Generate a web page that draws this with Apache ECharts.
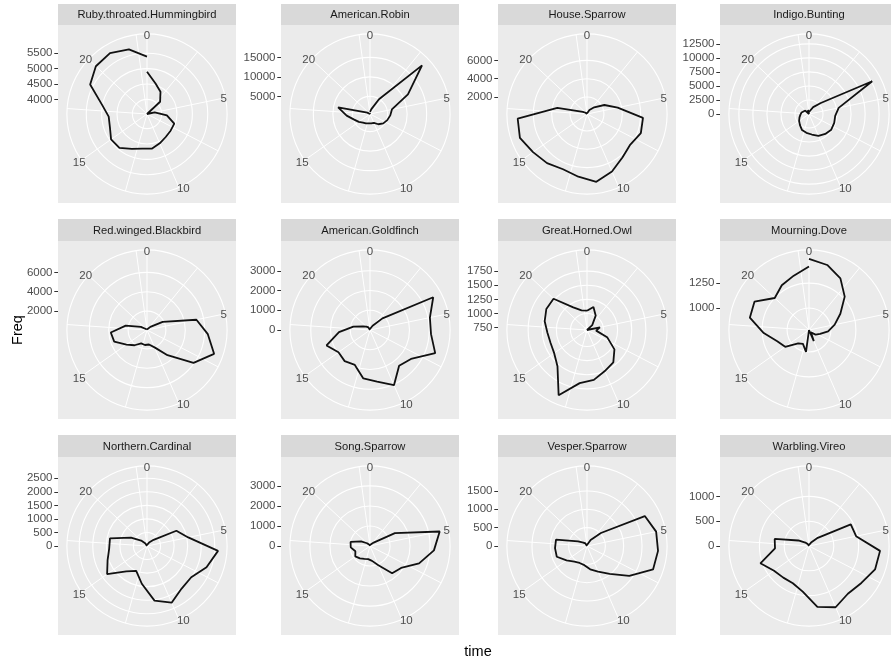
<!DOCTYPE html>
<html>
<head>
<meta charset="utf-8">
<script src="https://cdn.jsdelivr.net/npm/echarts@6/dist/echarts.min.js"></script>
<style>
  html, body { margin: 0; padding: 0; background: #fff; }
  #chart { width: 891px; height: 660px; }
</style>
</head>
<body>
<div id="chart"></div>
<script>
// facet titles, row by row
const species = ['Ruby.throated.Hummingbird', 'American.Robin', 'House.Sparrow', 'Indigo.Bunting',
  'Red.winged.Blackbird', 'American.Goldfinch', 'Great.Horned.Owl', 'Mourning.Dove',
  'Northern.Cardinal', 'Song.Sparrow', 'Vesper.Sparrow', 'Warbling.Vireo'];

const hours = [0, 1, 2, 3, 4, 5, 6, 7, 8, 9, 10, 11, 12, 13, 14, 15, 16, 17, 18, 19, 20, 21, 22, 23];
const timeBreaks = [0, 5, 10, 15, 20];

// Freq per hour
const ruby = [4900, 4554, 4369, 4108, 3525, 3782, 4173, 4466, 4466, 4489, 4564, 4662, 4662, 4760, 4946, 4955, 4805, 4773, 5021, 5607, 5800, 5840, 5705, 5389];
const robin = [1016, 1797, 4922, 18723, 11432, 6224, 5703, 5182, 4661, 3880, 2969, 2917, 2917, 3099, 3359, 4010, 4792, 6484, 8828, 1276, 755, 495, 755, 886];
const houseSparrow = [200, 324, 660, 1220, 2284, 3572, 6272, 6384, 5936, 6272, 6989, 7616, 7056, 6720, 7056, 7358, 7918, 7728, 3460, 660, 350, 250, 150, 180];
const indigo = [360, 720, 1440, 2880, 12690, 5400, 4680, 4770, 4860, 4590, 4230, 3690, 3384, 3114, 2556, 2160, 1800, 1530, 1350, 1170, 900, 0, 720, 360];
const blackbird = [104, 208, 312, 520, 1872, 5262, 6344, 7400, 5928, 3400, 2007, 1560, 1612, 1560, 2080, 2652, 3640, 3796, 2288, 760, 208, 104, 50, 104];
const goldfinch = [51, 102, 254, 864, 3607, 3099, 3099, 3505, 2540, 2337, 3048, 2642, 2479, 1930, 2032, 1956, 2337, 1575, 860, 400, 254, 152, 102, 0];
const owl = [1050, 1131, 1005, 834, 708, 942, 870, 1086, 1302, 1446, 1500, 1599, 1657, 1968, 1536, 1419, 1392, 1410, 1473, 1518, 1518, 1176, 1068, 1050];
const dove = [1494, 1457, 1386, 1270, 1134, 1043, 972, 898, 861, 810, 901, 780, 1001, 932, 952, 1073, 1118, 1235, 1386, 1396, 1250, 1305, 1346, 1416];
const cardinal = [37, 111, 148, 333, 1221, 1554, 2627, 2331, 1998, 2024, 2279, 2035, 1406, 999, 1210, 1802, 1543, 1399, 1395, 666, 296, 111, 37, 0];
const songSparrow = [50, 50, 100, 250, 1400, 3555, 3200, 2600, 1900, 1750, 1050, 750, 665, 700, 800, 900, 775, 965, 990, 500, 200, 100, 50, 0];
const vesper = [27, 82, 191, 519, 1775, 1925, 1941, 1911, 1411, 977, 759, 642, 527, 505, 546, 683, 874, 874, 863, 273, 137, 82, 55, 0];
const vireo = [20, 40, 81, 242, 949, 970, 1436, 1414, 1293, 1242, 1347, 1240, 929, 818, 822, 863, 1040, 687, 707, 242, 101, 40, 20, 0];

const freq = [ruby, robin, houseSparrow, indigo, blackbird, goldfinch, owl, dove, cardinal, songSparrow, vesper, vireo];

// radial tick labels of each facet
const freqBreaks = [
  [4000, 4500, 5000, 5500],
  [5000, 10000, 15000],
  [2000, 4000, 6000],
  [0, 2500, 5000, 7500, 10000, 12500],
  [2000, 4000, 6000],
  [0, 1000, 2000, 3000],
  [750, 1000, 1250, 1500, 1750],
  [1000, 1250],
  [0, 500, 1000, 1500, 2000, 2500],
  [0, 1000, 2000, 3000],
  [0, 500, 1000, 1500],
  [0, 500, 1000]
];

const panelLeft = [58, 281, 498, 720];
const stripTop = [4, 219, 435];
const panelTop = [25, 241, 457];
const panelSize = 178;
const font = 'Liberation Sans, Arial, sans-serif';

const polar = [], angleAxis = [], radiusAxis = [], grid = [], xAxis = [], yAxis = [], series = [], graphic = [];

function timeLabel(v) {
    return timeBreaks.indexOf(v) >= 0 ? String(v) : '';
}

species.forEach(function (name, i) {
    const row = Math.floor(i / 4), col = i % 4;
    const x0 = panelLeft[col], y0 = panelTop[row];
    const cx = x0 + panelSize / 2, cy = y0 + panelSize / 2;
    const vals = freq[i];
    const lo = Math.min(...vals), hi = Math.max(...vals);
    //-- ggplot puts the data on 0..0.4 of the panel and the outer ring at 0.45
    const R = panelSize * 0.45;
    const rMax = lo + (hi - lo) * 0.45 / 0.4;

    graphic.push({type: 'rect', z: -10, shape: {x: x0, y: stripTop[row], width: panelSize, height: y0 - stripTop[row]}, style: {fill: '#D9D9D9'}});
    graphic.push({type: 'rect', z: -10, shape: {x: x0, y: y0, width: panelSize, height: panelSize}, style: {fill: '#EBEBEB'}});
    graphic.push({type: 'text', z: 10, x: cx, y: (stripTop[row] + y0) / 2 + 0.5,
        style: {text: name, fill: '#1A1A1A', font: '11.2px ' + font, align: 'center', verticalAlign: 'middle'}});

    //-- two polars on the same spot: one for the white grid, one above it for the time labels
    const pg = polar.length;
    polar.push({center: [cx, cy], radius: [0, R]});
    polar.push({center: [cx, cy], radius: [0, R]});

    angleAxis.push({
        polarIndex: pg, type: 'value', min: 0, max: 23, interval: 2.5,
        startAngle: 90, clockwise: true, z: 0,
        axisLine: {lineStyle: {color: '#FFFFFF', width: 1.1}},
        axisTick: {show: false},
        axisLabel: {show: false},
        splitLine: {lineStyle: {color: '#FFFFFF', width: 1}}
    });
    angleAxis.push({
        polarIndex: pg + 1, type: 'value', min: 0, max: 23, interval: 2.5,
        startAngle: 90, clockwise: true, z: 5,
        axisLine: {show: false},
        axisTick: {show: false},
        splitLine: {show: false},
        //-- labels sit on the outer ring, as ggplot draws them
        axisLabel: {
            margin: -5, lineHeight: 6, padding: [3, 0, 0, 0],
            color: '#4D4D4D', fontSize: 11.5, fontFamily: font,
            formatter: timeLabel
        }
    });
    radiusAxis.push({
        polarIndex: pg, type: 'value', min: lo, max: rMax,
        axisLine: {show: false},
        axisTick: {show: false, customValues: freqBreaks[i]},
        axisLabel: {show: false, customValues: freqBreaks[i]},
        splitLine: {show: true, lineStyle: {color: '#FFFFFF', width: 1.1}}
    });
    radiusAxis.push({
        polarIndex: pg + 1, type: 'value', min: lo, max: rMax,
        axisLine: {show: false}, axisTick: {show: false}, axisLabel: {show: false}, splitLine: {show: false}
    });

    //-- a bare cartesian y axis from the centre up to the ring carries the Freq labels
    grid.push({left: x0, top: cy - R, width: 10, height: R});
    xAxis.push({gridIndex: i, type: 'value', show: false});
    yAxis.push({
        gridIndex: i, type: 'value', min: lo, max: rMax, position: 'left',
        axisLine: {show: false},
        splitLine: {show: false},
        axisTick: {show: true, length: 3.7, lineStyle: {color: '#333333', width: 1}, customValues: freqBreaks[i]},
        axisLabel: {margin: 5.5, color: '#4D4D4D', fontSize: 11.5, fontFamily: font, customValues: freqBreaks[i],
            formatter: function (v) { return String(v); }}
    });

    series.push({
        type: 'line', coordinateSystem: 'polar', polarIndex: pg,
        data: hours.map(function (h, k) { return [vals[k], h]; }),
        showSymbol: false, silent: true,
        lineStyle: {color: '#111111', width: 1.8}
    });
});

graphic.push({type: 'text', x: 18, y: 330, rotation: Math.PI / 2,
    style: {text: 'Freq', fill: '#000000', font: '14.5px ' + font, align: 'center', verticalAlign: 'middle'}});
graphic.push({type: 'text', x: 478, y: 652,
    style: {text: 'time', fill: '#000000', font: '14.5px ' + font, align: 'center', verticalAlign: 'middle'}});

const chart = echarts.init(document.getElementById('chart'));
chart.setOption({
    animation: false,
    backgroundColor: '#FFFFFF',
    polar: polar,
    angleAxis: angleAxis,
    radiusAxis: radiusAxis,
    grid: grid,
    xAxis: xAxis,
    yAxis: yAxis,
    series: series,
    graphic: graphic
});
</script>
</body>
</html>
